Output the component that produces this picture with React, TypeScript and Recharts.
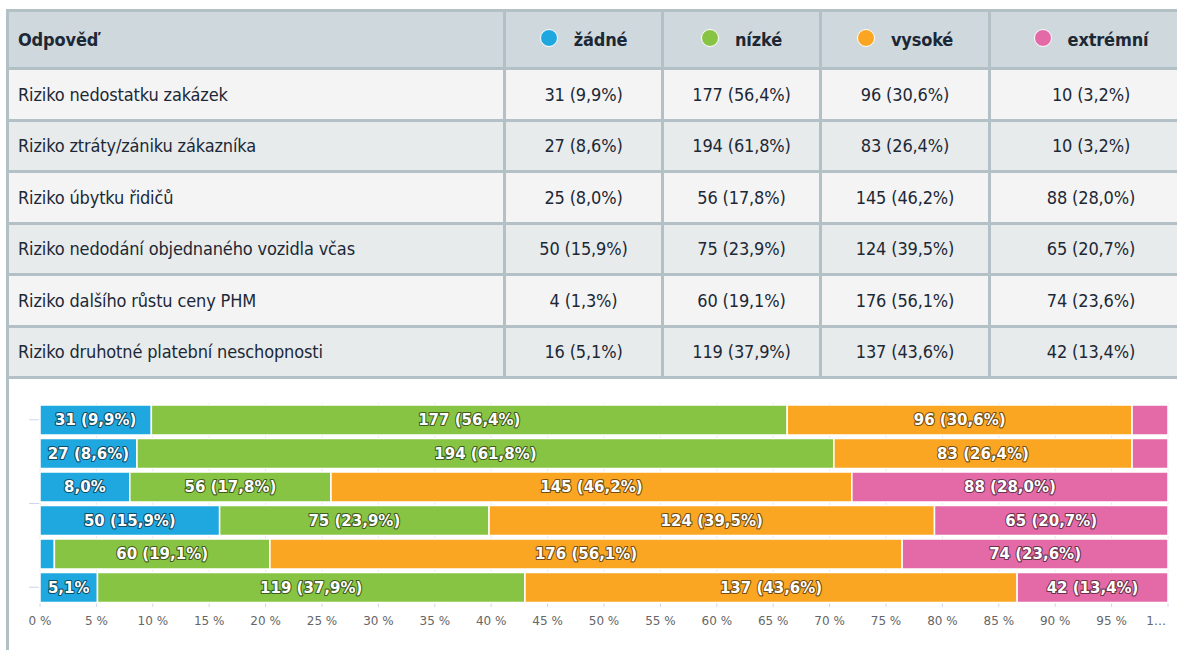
import React from 'react';
import { BarChart, Bar, XAxis, YAxis, CartesianGrid, LabelList } from 'recharts';

const categories = [
  'Riziko nedostatku zakázek',
  'Riziko ztráty/zániku zákazníka',
  'Riziko úbytku řidičů',
  'Riziko nedodání objednaného vozidla včas',
  'Riziko dalšího růstu ceny PHM',
  'Riziko druhotné platební neschopnosti',
];
const zadne = [31, 27, 25, 50, 4, 16];
const nizke = [177, 194, 56, 75, 60, 119];
const vysoke = [96, 83, 145, 124, 176, 137];
const extremni = [10, 10, 88, 65, 74, 42];

const seriesKeys = ['zadne', 'nizke', 'vysoke', 'extremni'];
const seriesNames = ['žádné', 'nízké', 'vysoké', 'extrémní'];
const seriesColors = ['#1fa8e0', '#88c443', '#faa623', '#e36aa6'];
const xTickLabels = [0, 5, 10, 15, 20, 25, 30, 35, 40, 45, 50, 55, 60, 65, 70, 75, 80, 85, 90, 95, 100];
// left tick marks, in row units from the first row's centre
const yTickMarks = [0, 2.5, 5];

const headerLabel = 'Odpověď';
const BORDER = '#b3c1c6';
const TEXT = '#1c2836';
const TABLE_FONT = '"Liberation Sans Narrow", "DejaVu Sans Condensed", sans-serif';
const LABEL_FONT = 'bold 15px "DejaVu Sans"';

const CHART_H = 271;
const MARGIN = { top: 24, right: 9, bottom: 16, left: 10 };
const X_AXIS_H = 30;
const BAND = (CHART_H - MARGIN.top - MARGIN.bottom - X_AXIS_H) / categories.length;

const seriesValues = [zadne, nizke, vysoke, extremni];
const rowTotals = categories.map((_, i) => seriesValues.reduce((s, arr) => s + arr[i], 0));
const pct = (v: number, i: number) => ((v / rowTotals[i]) * 100).toFixed(1).replace('.', ',');

const chartData = categories.map((name, i) => {
  const row: { [k: string]: string | number } = { name, idx: i };
  seriesKeys.forEach((k, s) => { row[k] = seriesValues[s][i]; });
  return row;
});

let measureCtx: CanvasRenderingContext2D | null = null;
function textWidth(t: string) {
  if (!measureCtx) {
    measureCtx = document.createElement('canvas').getContext('2d');
  }
  if (!measureCtx) return t.length * 9;
  measureCtx.font = LABEL_FONT;
  return measureCtx.measureText(t).width;
}

function makeLabel(key: string) {
  return (props: any) => {
    const vb = props.viewBox || props;
    const x = Number(props.x ?? vb.x);
    const y = Number(props.y ?? vb.y);
    const width = Number(props.width ?? vb.width);
    const height = Number(props.height ?? vb.height);
    const idx = props.index;
    const value = Number(props.value);
    const rowIdx = typeof idx === 'number' ? idx : 0;
    const p = pct(value, rowIdx);
    const full = `${value} (${p}%)`;
    const short = `${p}%`;
    let text = '';
    if (width >= textWidth(full) + 10) text = full;
    else if (width >= textWidth(short) + 10) text = short;
    if (!text) return null;
    return (
      <text
        key={`${key}-${rowIdx}`}
        x={x + width / 2}
        y={y + height / 2}
        textAnchor="middle"
        dominantBaseline="central"
        fill="#fff"
        stroke="#000"
        strokeOpacity={0.55}
        strokeWidth={2.2}
        strokeLinejoin="round"
        paintOrder="stroke"
        style={{ font: LABEL_FONT }}
      >
        {text}
      </text>
    );
  };
}

function XTick(props: any) {
  const { x, y, payload, index } = props;
  const v = Math.round(payload.value * 100);
  const last = index === xTickLabels.length - 1;
  return (
    <text
      x={last ? x - 2 : x}
      y={y}
      dy="0.71em"
      textAnchor={last ? 'end' : 'middle'}
      fill="#666"
      style={{ font: '12px "DejaVu Sans"' }}
    >
      {last ? '1…' : `${v} %`}
    </text>
  );
}

// the category axis draws no labels, only the short marks (from the first tick)
function YMarks(props: any) {
  const { x, y, index } = props;
  if (index !== 0) return <g />;
  return (
    <g>
      {yTickMarks.map((m) => (
        <line key={m} x1={x - 11} x2={x - 1} y1={y + m * BAND} y2={y + m * BAND} stroke="#ccd6eb" strokeWidth={1} />
      ))}
    </g>
  );
}

function Dot({ color }: { color: string }) {
  return (
    <span
      style={{
        display: 'inline-block',
        width: 16,
        height: 16,
        borderRadius: '50%',
        background: color,
        border: '1.5px solid #fff',
        marginRight: 16,
        verticalAlign: 'middle',
        position: 'relative',
        top: -3,
      }}
    />
  );
}

const colWidths = [494, 155, 155, 166, 200];
const rowHeights = [55, 48.5, 48.5, 48.5, 48.5, 48.5, 48.5];

function Table() {
  const cell = (bg: string, align: 'left' | 'center', bold: boolean, content: React.ReactNode, key: string) => (
    <div
      key={key}
      style={{
        background: bg,
        display: 'flex',
        alignItems: 'center',
        justifyContent: align === 'left' ? 'flex-start' : 'center',
        paddingLeft: align === 'left' ? 9 : 0,
        fontWeight: bold ? 700 : 400,
        whiteSpace: 'nowrap',
        overflow: 'hidden',
      }}
    >
      {content}
    </div>
  );
  const cells: React.ReactNode[] = [];
  cells.push(cell('#cfd8dc', 'left', true, headerLabel, 'h0'));
  seriesNames.forEach((n, s) =>
    cells.push(cell('#cfd8dc', 'center', true, <span><Dot color={seriesColors[s]} />{n}</span>, `h${s + 1}`)),
  );
  categories.forEach((c, i) => {
    const bg = i % 2 === 0 ? '#f4f4f4' : '#e7ebec';
    cells.push(cell(bg, 'left', false, c, `r${i}`));
    seriesValues.forEach((arr, s) =>
      cells.push(cell(bg, 'center', false, `${arr[i]} (${pct(arr[i], i)}%)`, `r${i}c${s}`)),
    );
  });
  return (
    <div
      style={{
        position: 'absolute',
        left: 6,
        top: 9,
        background: BORDER,
        padding: 3,
        display: 'grid',
        gridTemplateColumns: colWidths.map((w) => `${w}px`).join(' '),
        gridTemplateRows: rowHeights.map((h) => `${h}px`).join(' '),
        gap: 3,
        fontFamily: TABLE_FONT,
        fontSize: 18,
        letterSpacing: -0.15,
        color: TEXT,
      }}
    >
      {cells}
    </div>
  );
}

export default function App() {
  return (
    <div style={{ position: 'absolute', left: 0, top: 0, width: 1177, height: 650, background: '#fff', overflow: 'hidden' }}>
      <Table />
      <div style={{ position: 'absolute', left: 6, top: 376, width: 3, height: 274, background: BORDER }} />
      <div style={{ position: 'absolute', left: 9, top: 379 }}>
        <BarChart
          width={1168}
          height={CHART_H}
          data={chartData}
          layout="vertical"
          stackOffset="expand"
          barCategoryGap={2}
          margin={MARGIN}
        >
          <CartesianGrid vertical horizontal={false} stroke="#e6e6e6" />
          <XAxis
            type="number"
            domain={[0, 1]}
            ticks={xTickLabels.map((t) => t / 100)}
            tick={<XTick />}
            tickSize={3}
            tickMargin={9}
            tickLine={{ stroke: '#ccd6eb' }}
            axisLine={false}
            height={X_AXIS_H}
            interval={0}
          />
          <YAxis
            type="category"
            dataKey="name"
            width={21}
            tickSize={0}
            tickMargin={0}
            tick={<YMarks />}
            tickLine={false}
            axisLine={false}
            interval={0}
          />
          {seriesKeys.map((k, s) => (
            <Bar
              key={k}
              dataKey={k}
              name={seriesNames[s]}
              stackId="a"
              fill={seriesColors[s]}
              stroke="#fff"
              strokeWidth={1.5}
              isAnimationActive={false}
            >
              <LabelList dataKey={k} content={makeLabel(k)} />
            </Bar>
          ))}
        </BarChart>
      </div>
    </div>
  );
}
